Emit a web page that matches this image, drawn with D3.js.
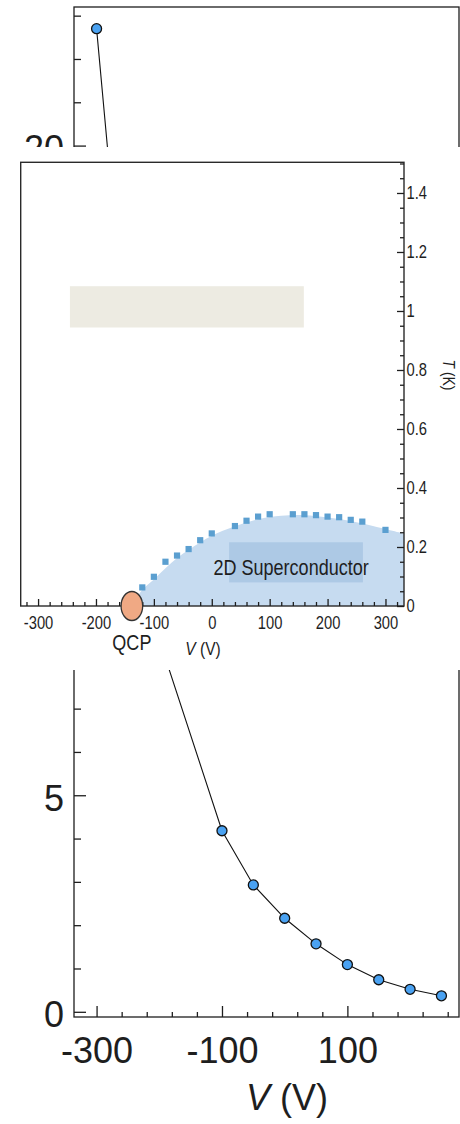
<!DOCTYPE html>
<html>
<head>
<meta charset="utf-8">
<script src="https://cdn.jsdelivr.net/npm/d3@7"></script>
<style>
  body { margin: 0; background: #fff; }
  svg { display: block; }
</style>
</head>
<body>
<svg id="chart" width="460" height="1124"></svg>
<script>
// ---- main panel: value vs gate voltage ----
const mainV     = [-300, -250, -200, -100, -50, 0, 50, 100, 150, 200, 250];
const mainValue = [22.7, 14.8, 8.6, 4.18, 2.93, 2.16, 1.57, 1.09, 0.74, 0.52, 0.37];
const mainXMajor = [-300, -100, 100];
const mainXMinor = [-260, -220, -180, -140, -60, -20, 20, 60, 140, 180, 220, 260];
const mainYMajor = [0, 5, 10, 15, 20];
const mainYMinor = [1, 2, 3, 4, 6, 7, 8, 9, 11, 12, 13, 14, 16, 17, 18, 19, 21, 22, 23];

// ---- inset: T(K) phase diagram ----
const tcV = [-120, -100, -80, -60, -40, -20, 0, 40, 60, 80, 100, 140, 160, 180, 200, 220, 240, 260, 300];
const tcT = [0.063, 0.099, 0.150, 0.171, 0.193, 0.223, 0.246, 0.271, 0.289, 0.303, 0.311, 0.311, 0.311, 0.308, 0.303, 0.301, 0.292, 0.286, 0.258];
const domeV = [-138, -120, -100, -80, -60, -40, -20, 0, 40, 80, 120, 160, 200, 240, 280, 332];
const domeT = [0, 0.055, 0.09, 0.128, 0.163, 0.19, 0.215, 0.238, 0.27, 0.294, 0.306, 0.308, 0.3, 0.288, 0.27, 0.245];
const insetXMajor = [-300, -200, -100, 0, 100, 200, 300];
const insetXMinor = [-320, -280, -260, -240, -220, -180, -160, -140, -120, -80, -60, -40, -20, 20, 40, 60, 80, 120, 140, 160, 180, 220, 240, 260, 280, 320];
const insetYMajor = [0, 0.2, 0.4, 0.6, 0.8, 1, 1.2, 1.4];
const insetYLabels = ["0", "0.2", "0.4", "0.6", "0.8", "1", "1.2", "1.4"];
const insetYMinor = [0.05, 0.1, 0.15, 0.25, 0.3, 0.35, 0.45, 0.5, 0.55, 0.65, 0.7, 0.75, 0.85, 0.9, 0.95, 1.05, 1.1, 1.15, 1.25, 1.3, 1.35, 1.45, 1.5];
const qcpV = -138;

const svg = d3.select("#chart");
const ink = "#1e1e1e";
const mainFont = "'Liberation Sans', Arial, Helvetica, sans-serif";
const squeeze = 0.82; // condensed look for the inset lettering

// ================= main panel =================
const mx = d3.scaleLinear().domain([-336, 278]).range([74, 459]);
const my = d3.scaleLinear().domain([-0.12, 23.2]).range([1017, 7]);
const main = svg.append("g");

function styleAxis(g, size, condensed) {
  g.select(".domain").remove();
  g.selectAll(".tick line").attr("stroke", ink).attr("stroke-width", 1.3);
  const t = g.selectAll(".tick text").attr("fill", ink)
    .style("font-family", mainFont).style("font-size", size + "px");
  if (condensed) t.attr("transform", `scale(${squeeze},1)`);
}

main.append("g").attr("transform", `translate(0,${my.range()[0]})`)
  .call(d3.axisBottom(mx).tickValues(mainXMinor).tickSize(-5).tickFormat(""))
  .call(g => styleAxis(g, 36));
main.append("g").attr("transform", `translate(0,${my.range()[0]})`)
  .call(d3.axisBottom(mx).tickValues(mainXMajor).tickSize(-11).tickPadding(20).tickFormat(d => String(d)))
  .call(g => styleAxis(g, 36));

main.append("g").attr("transform", `translate(${mx.range()[0]},0)`)
  .call(d3.axisLeft(my).tickValues(mainYMinor).tickSize(-7).tickFormat(""))
  .call(g => styleAxis(g, 36));
main.append("g").attr("transform", `translate(${mx.range()[0]},0)`)
  .call(d3.axisLeft(my).tickValues(mainYMajor).tickSize(-12).tickPadding(10).tickFormat(d => String(d)))
  .call(g => styleAxis(g, 36))
  .call(g => g.selectAll(".tick text").attr("dy", "0.42em"));

main.append("rect")
  .attr("x", mx.range()[0]).attr("y", my.range()[1])
  .attr("width", mx.range()[1] - mx.range()[0]).attr("height", my.range()[0] - my.range()[1])
  .attr("fill", "none").attr("stroke", ink).attr("stroke-width", 1.3);

const mainPts = mainV.map((v, i) => [v, mainValue[i]]);
main.append("path")
  .attr("d", d3.line().x(d => mx(d[0])).y(d => my(d[1]))(mainPts))
  .attr("fill", "none").attr("stroke", "#111").attr("stroke-width", 1.1);
main.selectAll("circle.pt").data(mainPts).join("circle")
  .attr("class", "pt")
  .attr("cx", d => mx(d[0])).attr("cy", d => my(d[1])).attr("r", 5)
  .attr("fill", "#4aa2f2").attr("stroke", "#111").attr("stroke-width", 1.3);

const mTitle = main.append("text")
  .attr("x", 287).attr("y", 1110).attr("text-anchor", "middle")
  .attr("fill", ink).style("font-family", mainFont).style("font-size", "36px");
mTitle.append("tspan").style("font-style", "italic").text("V");
mTitle.append("tspan").text(" (V)");

// white panel holding the inset
svg.append("rect").attr("x", 0).attr("y", 147).attr("width", 460).attr("height", 523).attr("fill", "#fff");

// ================= inset =================
const ix = d3.scaleLinear().domain([-330, 332]).range([20.7, 404]);
const iy = d3.scaleLinear().domain([0, 1.504]).range([606, 162.3]);
const inset = svg.append("g");

function label(parent, x, y, size, transformExtra) {
  return parent.append("text")
    .attr("transform", `translate(${x},${y}) ${transformExtra || ""} scale(${squeeze},1)`)
    .attr("text-anchor", "middle").attr("fill", ink)
    .style("font-family", mainFont).style("font-size", size + "px");
}

inset.append("clipPath").attr("id", "insetClip")
  .append("rect").attr("x", ix.range()[0]).attr("y", iy.range()[1])
  .attr("width", ix.range()[1] - ix.range()[0]).attr("height", iy.range()[0] - iy.range()[1]);

const plot = inset.append("g").attr("clip-path", "url(#insetClip)");

// annotation block
plot.append("rect")
  .attr("x", ix(-245)).attr("y", iy(1.084))
  .attr("width", ix(159) - ix(-245)).attr("height", iy(0.944) - iy(1.084))
  .attr("fill", "#edebe2");

// superconducting dome
const domePts = domeV.map((v, i) => [v, domeT[i]]);
plot.append("path")
  .attr("d", d3.area().x(d => ix(d[0])).y0(iy(0)).y1(d => iy(d[1])).curve(d3.curveCatmullRom)(domePts))
  .attr("fill", "#c6dbf0");

plot.append("rect")
  .attr("x", ix(30)).attr("y", iy(0.216))
  .attr("width", ix(261) - ix(30)).attr("height", iy(0.08) - iy(0.216))
  .attr("fill", "#adc9e5");

label(plot, ix(137), 575, 22).text("2D Superconductor");

const tcPts = tcV.map((v, i) => [v, tcT[i]]);
const sq = 6.2;
plot.selectAll("rect.tc").data(tcPts).join("rect")
  .attr("class", "tc")
  .attr("x", d => ix(d[0]) - sq / 2).attr("y", d => iy(d[1]) - sq / 2)
  .attr("width", sq).attr("height", sq)
  .attr("fill", "#5b9fd0");

// inset frame and axes
inset.append("rect")
  .attr("x", ix.range()[0]).attr("y", iy.range()[1])
  .attr("width", ix.range()[1] - ix.range()[0]).attr("height", iy.range()[0] - iy.range()[1])
  .attr("fill", "none").attr("stroke", "#2a2a2a").attr("stroke-width", 1.4);

inset.append("g").attr("transform", `translate(0,${iy(0)})`)
  .call(d3.axisBottom(ix).tickValues(insetXMinor).tickSize(-4).tickFormat(""))
  .call(g => styleAxis(g, 18, true));
inset.append("g").attr("transform", `translate(0,${iy(0)})`)
  .call(d3.axisBottom(ix).tickValues(insetXMajor).tickSize(-7).tickPadding(10).tickFormat(d => String(d)))
  .call(g => styleAxis(g, 18, true));

inset.append("g").attr("transform", `translate(${ix.range()[1]},0)`)
  .call(d3.axisRight(iy).tickValues(insetYMinor).tickSize(-4).tickFormat(""))
  .call(g => styleAxis(g, 18, true));
inset.append("g").attr("transform", `translate(${ix.range()[1]},0)`)
  .call(d3.axisRight(iy).tickValues(insetYMajor).tickSize(-7).tickPadding(3).tickFormat((d, i) => insetYLabels[i]))
  .call(g => styleAxis(g, 18, true));

// quantum critical point
inset.append("ellipse")
  .attr("cx", ix(qcpV)).attr("cy", iy(0)).attr("rx", 10.8).attr("ry", 14.5)
  .attr("fill", "#f0a984").attr("stroke", "#333").attr("stroke-width", 1.3);
label(inset, ix(qcpV), 650, 22).text("QCP");

const iTitle = label(inset, 203, 655, 19);
iTitle.append("tspan").style("font-style", "italic").text("V");
iTitle.append("tspan").text(" (V)");

const tTitle = label(inset, 443, 375, 17, "rotate(90)");
tTitle.append("tspan").style("font-style", "italic").text("T");
tTitle.append("tspan").text(" (K)");
</script>
</body>
</html>
